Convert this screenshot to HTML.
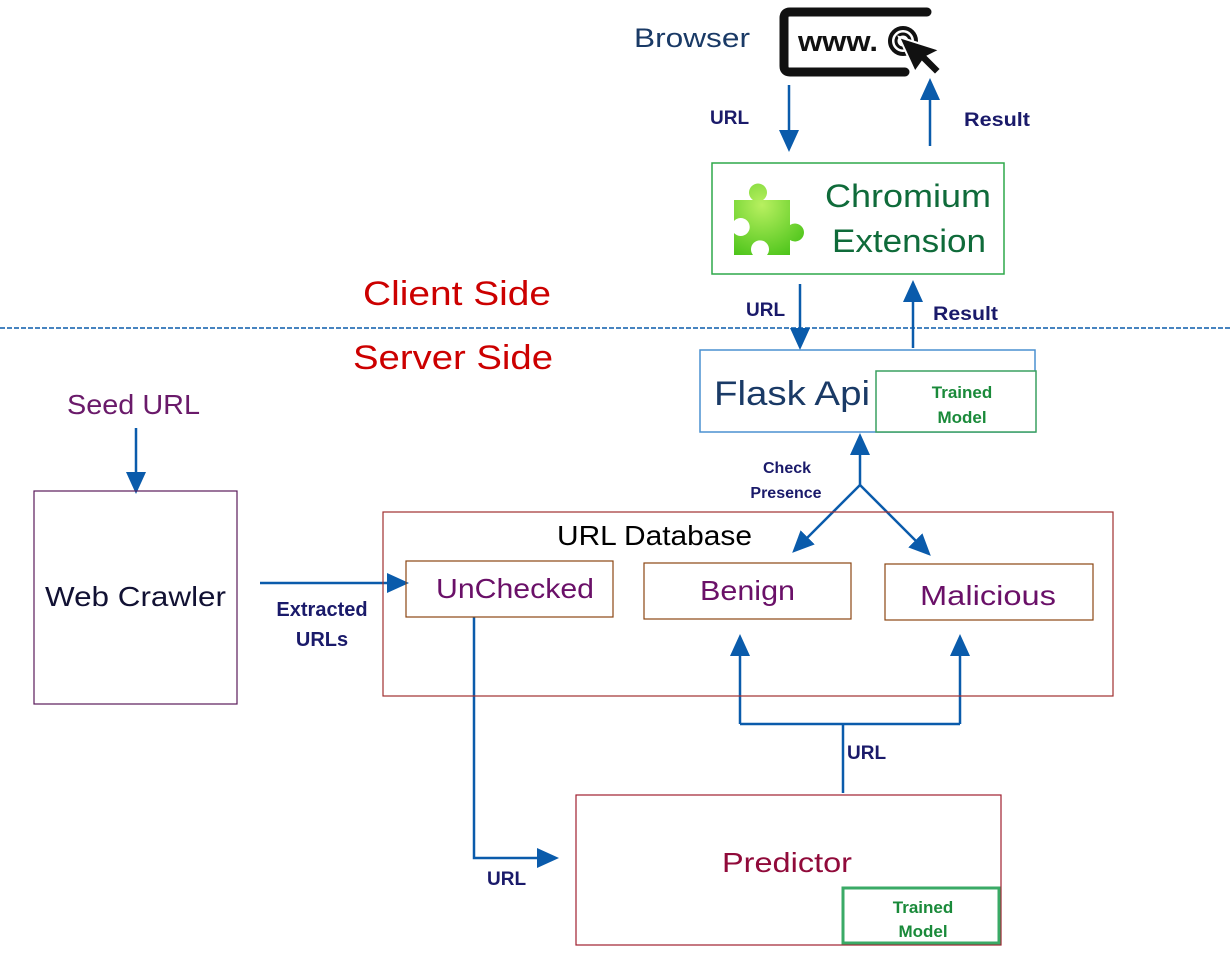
<!DOCTYPE html>
<html><head><meta charset="utf-8"><style>
html,body{margin:0;padding:0;background:#fff;}
svg{display:block;font-family:"Liberation Sans",sans-serif;}
</style></head><body>
<svg width="1231" height="955" viewBox="0 0 1231 955" xmlns="http://www.w3.org/2000/svg">
<defs>
<marker id="ahb" markerWidth="22" markerHeight="20" refX="18" refY="10" orient="auto" markerUnits="userSpaceOnUse" viewBox="0 0 22 20">
<path d="M0,0 L22,10 L0,20 z" fill="#0a5bab"/></marker>
<radialGradient id="pg" cx="0.4" cy="0.3" r="0.8"><stop offset="0" stop-color="#b8f060"/><stop offset="1" stop-color="#4cc41a"/></radialGradient>
</defs>
<g fill="none" stroke="#0a5bab" stroke-width="2.5">
<line x1="789" y1="85" x2="789" y2="148" marker-end="url(#ahb)"/>
<line x1="930" y1="146" x2="930" y2="82" marker-end="url(#ahb)"/>
<line x1="800" y1="284" x2="800" y2="346" marker-end="url(#ahb)"/>
<line x1="913" y1="348" x2="913" y2="284" marker-end="url(#ahb)"/>
<line x1="136" y1="428" x2="136" y2="490" marker-end="url(#ahb)"/>
<line x1="260" y1="583" x2="405" y2="583" marker-end="url(#ahb)"/>
<line x1="860" y1="485" x2="860" y2="437" marker-end="url(#ahb)"/>
<line x1="860" y1="485" x2="795" y2="550" marker-end="url(#ahb)"/>
<line x1="860" y1="485" x2="928" y2="553" marker-end="url(#ahb)"/>
<polyline points="474,617 474,858 555,858" marker-end="url(#ahb)"/>
<polyline points="740,724 740,638" marker-end="url(#ahb)"/>
<polyline points="960,724 960,638" marker-end="url(#ahb)"/>
<line x1="740" y1="724" x2="960" y2="724"/>
<line x1="843" y1="724" x2="843" y2="793"/>
</g>
<line x1="0" y1="328" x2="1231" y2="328" stroke="#0a5bab" stroke-width="1.5" stroke-dasharray="5,2"/>

<path d="M927,12 H790 Q784,12 784,18 V66 Q784,72 790,72 H905" fill="none" stroke="#111" stroke-width="9" stroke-linecap="round"/>
<text x="798" y="51" font-size="29" font-weight="bold" fill="#111" textLength="80" lengthAdjust="spacingAndGlyphs">www.</text>
<circle cx="903" cy="41" r="13" fill="none" stroke="#111" stroke-width="4"/>
<circle cx="903" cy="41" r="7" fill="none" stroke="#111" stroke-width="3"/>
<path d="M899,37 L940,50 L928,56 L941,69 L935,75 L922,62 L915,72 z" fill="#111" stroke="#fff" stroke-width="2"/>
<text x="634" y="47" font-size="27" fill="#1a3a66" textLength="116" lengthAdjust="spacingAndGlyphs">Browser</text>
<text x="710" y="124" font-size="19" font-weight="bold" fill="#1a1a6a">URL</text>
<text x="964" y="126" font-size="19" font-weight="bold" fill="#1a1a6a" textLength="66" lengthAdjust="spacingAndGlyphs">Result</text>

<rect x="712" y="163" width="292" height="111" fill="none" stroke="#2ea84a" stroke-width="1.5"/>
<path d="M734,200 H753 a9,9 0 1 1 10,0 H790 V225 a9,9 0 1 1 0,15 V255 H767 a9,9 0 1 0 -14,0 H734 V233 a9,9 0 1 0 0,-12 z" fill="url(#pg)"/>
<text x="825" y="207" font-size="32" fill="#0f6b3a" textLength="166" lengthAdjust="spacingAndGlyphs">Chromium</text>
<text x="832" y="252" font-size="32" fill="#0f6b3a" textLength="154" lengthAdjust="spacingAndGlyphs">Extension</text>

<text x="363" y="305" font-size="34" fill="#cc0000" textLength="188" lengthAdjust="spacingAndGlyphs">Client Side</text>
<text x="353" y="369" font-size="34" fill="#cc0000" textLength="200" lengthAdjust="spacingAndGlyphs">Server Side</text>
<text x="746" y="316" font-size="19" font-weight="bold" fill="#1a1a6a">URL</text>
<text x="933" y="320" font-size="19" font-weight="bold" fill="#1a1a6a" textLength="65" lengthAdjust="spacingAndGlyphs">Result</text>

<rect x="700" y="350" width="335" height="82" fill="none" stroke="#4a90d0" stroke-width="1.5"/>
<rect x="876" y="371" width="160" height="61" fill="#fff" stroke="#3aa060" stroke-width="1.5"/>
<text x="714" y="405" font-size="34" fill="#1a3a66" textLength="156" lengthAdjust="spacingAndGlyphs">Flask Api</text>
<text x="962" y="398" font-size="17" font-weight="bold" fill="#1a8a3a" text-anchor="middle">Trained</text>
<text x="962" y="423" font-size="17" font-weight="bold" fill="#1a8a3a" text-anchor="middle">Model</text>

<text x="787" y="473" font-size="16" font-weight="bold" fill="#1a1a6a" text-anchor="middle">Check</text>
<text x="786" y="498" font-size="16" font-weight="bold" fill="#1a1a6a" text-anchor="middle">Presence</text>

<text x="67" y="414" font-size="28" fill="#6a1a6a" textLength="133" lengthAdjust="spacingAndGlyphs">Seed URL</text>
<rect x="34" y="491" width="203" height="213" fill="none" stroke="#5a1a5a" stroke-width="1.2"/>
<text x="45" y="606" font-size="28" fill="#111133" textLength="181" lengthAdjust="spacingAndGlyphs">Web Crawler</text>
<text x="322" y="616" font-size="20" font-weight="bold" fill="#1a1a6a" text-anchor="middle">Extracted</text>
<text x="322" y="646" font-size="20" font-weight="bold" fill="#1a1a6a" text-anchor="middle">URLs</text>

<rect x="383" y="512" width="730" height="184" fill="none" stroke="#a03030" stroke-width="1.2"/>
<text x="557" y="545" font-size="28" fill="#000" textLength="195" lengthAdjust="spacingAndGlyphs">URL Database</text>
<rect x="406" y="561" width="207" height="56" fill="none" stroke="#8b4513" stroke-width="1.2"/>
<rect x="644" y="563" width="207" height="56" fill="none" stroke="#8b4513" stroke-width="1.2"/>
<rect x="885" y="564" width="208" height="56" fill="none" stroke="#8b4513" stroke-width="1.2"/>
<text x="436" y="598" font-size="28" fill="#6a1068" textLength="158" lengthAdjust="spacingAndGlyphs">UnChecked</text>
<text x="700" y="600" font-size="28" fill="#6a1068" textLength="95" lengthAdjust="spacingAndGlyphs">Benign</text>
<text x="920" y="605" font-size="28" fill="#6a1068" textLength="136" lengthAdjust="spacingAndGlyphs">Malicious</text>

<text x="847" y="759" font-size="19" font-weight="bold" fill="#1a1a6a">URL</text>
<text x="487" y="885" font-size="19" font-weight="bold" fill="#1a1a6a">URL</text>

<rect x="576" y="795" width="425" height="150" fill="none" stroke="#a02030" stroke-width="1.2"/>
<text x="722" y="872" font-size="28" fill="#900a3a" textLength="130" lengthAdjust="spacingAndGlyphs">Predictor</text>
<rect x="843" y="888" width="156" height="55" fill="#fff" stroke="#3aaa66" stroke-width="3"/>
<text x="923" y="913" font-size="17" font-weight="bold" fill="#1a8a3a" text-anchor="middle">Trained</text>
<text x="923" y="937" font-size="17" font-weight="bold" fill="#1a8a3a" text-anchor="middle">Model</text>
</svg>
</body></html>
